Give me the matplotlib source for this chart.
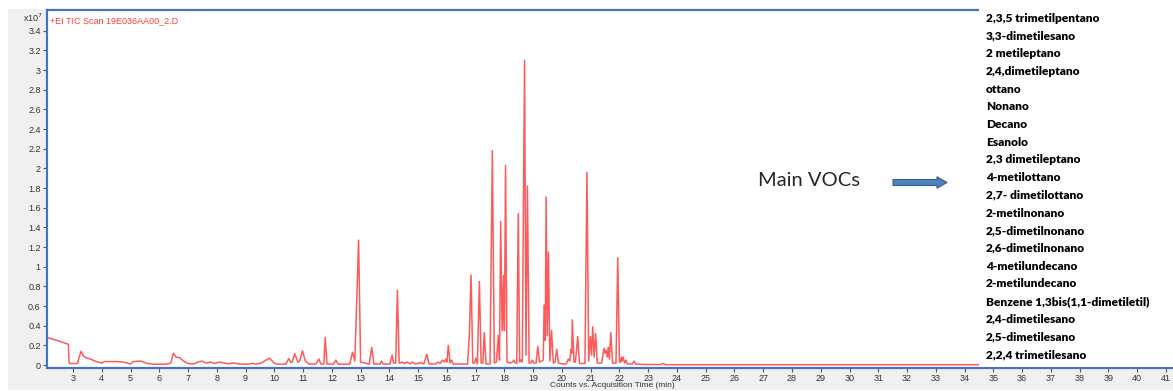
import matplotlib.pyplot as plt
from matplotlib.patches import Rectangle, FancyArrow

# chromatogram trace (time in min, counts in 1e7)
time_min = [2.10, 2.50, 2.84, 2.86, 2.90, 3.15, 3.28, 3.36, 3.45, 3.65, 3.85, 4.00, 4.10, 4.50,
            4.75, 5.00, 5.10, 5.35, 5.60, 5.80, 6.20, 6.35, 6.40, 6.49, 6.58, 6.70, 6.85, 7.00,
            7.20, 7.35, 7.48, 7.62, 7.78, 7.92, 8.08, 8.25, 8.40, 8.60, 8.75, 9.10, 9.25, 9.35,
            9.55, 9.83, 10.00, 10.10, 10.40, 10.50, 10.58, 10.62, 10.71, 10.82, 10.88, 10.98,
            11.08, 11.20, 11.45, 11.55, 11.62, 11.72, 11.77, 11.83, 12.05, 12.14, 12.22, 12.62,
            12.72, 12.80, 12.93, 13.00, 13.30, 13.39, 13.46, 13.68, 13.72, 13.78, 14.02, 14.09,
            14.15, 14.22, 14.28, 14.34, 14.45, 14.52, 14.62, 14.72, 14.80, 14.90, 15.10, 15.20,
            15.30, 15.38, 15.60, 15.70, 15.76, 15.85, 15.92, 15.97, 16.00, 16.05, 16.11, 16.17,
            16.22, 16.50, 16.72, 16.78, 16.84, 16.90, 16.96, 17.01, 17.06, 17.13, 17.19, 17.25,
            17.30, 17.36, 17.50, 17.58, 17.65, 17.72, 17.79, 17.83, 17.87, 17.92, 17.97, 18.00,
            18.04, 18.09, 18.20, 18.28, 18.33, 18.38, 18.43, 18.48, 18.53, 18.58, 18.62, 18.70,
            18.75, 18.80, 18.86, 18.92, 18.97, 19.02, 19.10, 19.16, 19.22, 19.30, 19.35, 19.38,
            19.42, 19.45, 19.49, 19.53, 19.58, 19.64, 19.70, 19.76, 19.82, 19.88, 20.00, 20.15,
            20.22, 20.27, 20.32, 20.34, 20.36, 20.42, 20.47, 20.55, 20.61, 20.80, 20.87, 20.93,
            20.99, 21.03, 21.07, 21.12, 21.17, 21.23, 21.38, 21.46, 21.50, 21.54, 21.58, 21.61,
            21.65, 21.70, 21.76, 21.88, 21.94, 22.00, 22.04, 22.07, 22.10, 22.13, 22.18, 22.23,
            22.28, 22.45, 22.51, 22.57, 23.00, 23.45, 23.52, 23.60, 41.40]
counts_e7 = [0.28, 0.245, 0.21, 0.03, 0.015, 0.015, 0.14, 0.09, 0.075, 0.055, 0.03, 0.02, 0.035, 0.035,
             0.03, 0.01, 0.035, 0.04, 0.015, 0.008, 0.008, 0.015, 0.02, 0.12, 0.08, 0.075, 0.04, 0.015,
             0.01, 0.03, 0.04, 0.02, 0.03, 0.015, 0.03, 0.02, 0.012, 0.02, 0.01, 0.008, 0.018, 0.008,
             0.02, 0.07, 0.02, 0.008, 0.008, 0.065, 0.025, 0.03, 0.115, 0.03, 0.04, 0.145,
             0.04, 0.01, 0.01, 0.06, 0.01, 0.01, 0.28, 0.01, 0.008, 0.05, 0.008, 0.008,
             0.13, 0.04, 1.27, 0.03, 0.01, 0.18, 0.01, 0.01, 0.04, 0.01, 0.01, 0.10,
             0.02, 0.02, 0.76, 0.02, 0.03, 0.015, 0.03, 0.012, 0.03, 0.01, 0.025, 0.01,
             0.11, 0.01, 0.01, 0.03, 0.015, 0.05, 0.03, 0.06, 0.03, 0.20, 0.02, 0.05,
             0.01, 0.01, 0.01, 0.30, 0.915, 0.02, 0.02, 0.07, 0.01, 0.85, 0.02, 0.02,
             0.33, 0.01, 0.01, 2.18, 0.02, 0.03, 0.30, 0.05, 1.46, 0.35, 0.91, 0.35,
             2.03, 0.03, 0.02, 0.03, 0.05, 0.02, 0.02, 1.54, 0.03, 0.05, 0.03, 3.10,
             0.10, 1.82, 0.02, 0.02, 0.05, 0.02, 0.02, 0.19, 0.03, 0.04, 0.05, 0.61,
             0.25, 1.71, 0.30, 1.15, 0.04, 0.35, 0.02, 0.03, 0.16, 0.02, 0.01, 0.01,
             0.06, 0.04, 0.16, 0.12, 0.46, 0.03, 0.03, 0.29, 0.015, 0.015, 1.96, 0.04,
             0.29, 0.10, 0.39, 0.08, 0.32, 0.02, 0.02, 0.17, 0.12, 0.15, 0.08, 0.18,
             0.06, 0.33, 0.02, 0.02, 1.09, 0.03, 0.03, 0.08, 0.04, 0.08, 0.02, 0.05,
             0.01, 0.01, 0.04, 0.008, 0.005, 0.005, 0.015, 0.003, 0.003]

x_ticks = list(range(3, 42))
y_ticks = [0, 0.2, 0.4, 0.6, 0.8, 1, 1.2, 1.4, 1.6, 1.8, 2, 2.2, 2.4, 2.6, 2.8, 3, 3.2, 3.4]

voc_names = ['2,3,5 trimetilpentano', '3,3-dimetilesano', '2 metileptano', '2,4,dimetileptano',
             'ottano', 'Nonano', 'Decano', 'Esanolo', '2,3 dimetileptano', '4-metilottano',
             '2,7- dimetilottano', '2-metilnonano', '2,5-dimetilnonano', '2,6-dimetilnonano',
             '4-metilundecano', '2-metilundecano', 'Benzene 1,3bis(1,1-dimetiletil)',
             '2,4-dimetilesano', '2,5-dimetilesano', '2,2,4 trimetilesano']

W, H = 1173, 391
plt.rcParams['font.family'] = ['Liberation Sans', 'DejaVu Sans']

fig = plt.figure(figsize=(W / 100, H / 100), dpi=100, facecolor='white')

# grey window background
fig.patches.append(Rectangle((8 / W, 1 / H), (W - 8) / W, 381 / H, transform=fig.transFigure,
                             facecolor='#f0f0f0', edgecolor='none', zorder=-1))

ax = fig.add_axes([47 / W, 23 / H, (1177 - 47) / W, 358 / H])
ax.set_facecolor('white')
ax.plot(time_min, counts_e7, color='#ff3030', lw=1.1, alpha=0.8)

ax.set_xlim(2.096, 41.386)
ax.set_ylim(-0.0305, 3.611)
ax.set_xticks(x_ticks)
ax.set_yticks(y_ticks)
ax.set_yticklabels(['%g' % v for v in y_ticks])
ax.tick_params(axis='both', labelsize=6.5, length=3, width=0.8, color='#555555',
               labelcolor='#333333', pad=1.5)

for side in ['left', 'bottom', 'top']:
    ax.spines[side].set_color('#4472c4')
    ax.spines[side].set_linewidth(1.6)
ax.spines['right'].set_visible(False)

# x axis title sits right at the bottom edge, as in the reference
fig.text(612 / W, 1 - 385.5 / H, 'Counts vs. Acquisition Time (min)', fontsize=6,
         color='#333333', ha='center', va='center')

fig.text(23 / W, 1 - 22 / H, r'x10$^7$', fontsize=6.5, color='#333333')
fig.text(50 / W, 1 - 23 / H, '+EI TIC Scan 19E036AA00_2.D', fontsize=6.5, color='#ff3b3b')

# white panel with compound list
fig.patches.append(Rectangle((979 / W, 24 / H), (W - 979) / W, 367 / H, transform=fig.transFigure,
                             facecolor='white', edgecolor='none', zorder=5))
for i, name in enumerate(voc_names):
    fig.text(986 / W, 1 - (18.3 + i * 17.7) / H, name, fontsize=8.6, fontweight='heavy',
             family=['Lato', 'DejaVu Sans'], va='center', ha='left', color='black', zorder=6)

fig.text(758 / W, 1 - 181 / H, 'Main VOCs', fontsize=14.5, family=['Lato', 'DejaVu Sans'],
         va='center', ha='left', color='#262626', zorder=6)
fig.patches.append(FancyArrow(8.93, (H - 182.5) / 100, 0.54, 0, width=0.06, head_width=0.115,
                              head_length=0.10, length_includes_head=True, facecolor='#4f81bd',
                              edgecolor='#385d8a', lw=0.8, transform=fig.dpi_scale_trans, zorder=6))

fig.savefig('out.png', dpi=100, facecolor='white')
